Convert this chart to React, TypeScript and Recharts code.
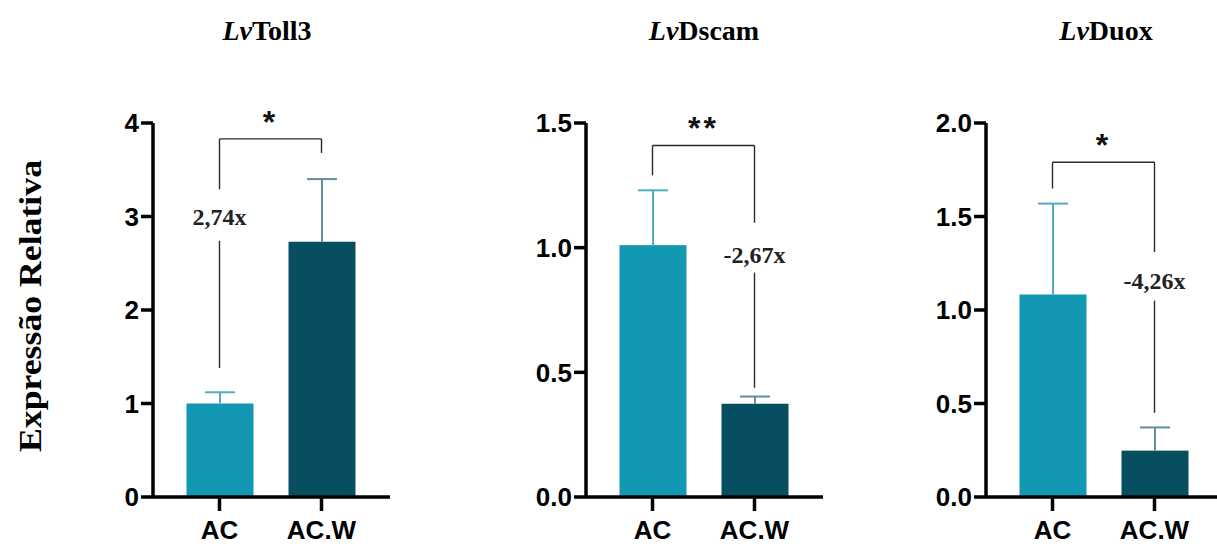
import React from 'react';
import { BarChart, Bar, XAxis, YAxis, ReferenceLine, ReferenceDot } from 'recharts';

const categories = ['AC', 'AC.W'];

const toll3Values = [1.0, 2.73];
const toll3Errors = [0.12, 0.67];
const toll3Ticks = [0, 1, 2, 3, 4];

const dscamValues = [1.01, 0.374];
const dscamErrors = [0.22, 0.029];
const dscamTicks = [0, 0.5, 1, 1.5];

const duoxValues = [1.083, 0.248];
const duoxErrors = [0.486, 0.124];
const duoxTicks = [0, 0.5, 1, 1.5, 2];

// annotation values (data units): bracket top, left leg bottom, right leg bottom,
// fold label y, fold line top, fold line bottom
const toll3Ann = { stars: '*', top: 3.83, leftLeg: 3.29, rightLeg: 3.68, foldText: '2,74x', foldCat: 'AC', foldY: 3.0, foldLineTop: 2.74, foldLineBottom: 1.38 };
const dscamAnn = { stars: '**', top: 1.41, leftLeg: 1.29, rightLeg: 1.1, foldText: '-2,67x', foldCat: 'AC.W', foldY: 0.973, foldLineTop: 0.9, foldLineBottom: 0.438 };
const duoxAnn = { stars: '*', top: 1.79, leftLeg: 1.65, rightLeg: 1.31, foldText: '-4,26x', foldCat: 'AC.W', foldY: 1.16, foldLineTop: 1.05, foldLineBottom: 0.45 };

const titles = [
  { gene: 'Toll3', x: 267 },
  { gene: 'Dscam', x: 704 },
  { gene: 'Duox', x: 1106 },
];

const barColors = ['#1398b3', '#074f60'];
const errorColors = ['#52abc0', '#5f8f9b'];

const SANS = '"Liberation Sans", Arial, sans-serif';
const SERIF = '"Liberation Serif", "Times New Roman", serif';

const BarWithError = (props: any) => {
  const { x, y, width, height, payload, index } = props;
  const k = payload.mean !== 0 ? height / payload.mean : 0;
  const top = y - payload.err * k;
  const cx = x + width / 2;
  return (
    <g>
      <rect x={x} y={y} width={width} height={height} fill={barColors[index]} />
      <line x1={cx} y1={y} x2={cx} y2={top} stroke={errorColors[index]} strokeWidth={2} />
      <line x1={cx - 15} y1={top} x2={cx + 15} y2={top} stroke={errorColors[index]} strokeWidth={2} />
    </g>
  );
};

function Panel({ left, values, errors, ticks, max, fmt, ann }: any) {
  const data = categories.map((c, i) => ({ name: c, mean: values[i], err: errors[i] }));
  const lineProps = { stroke: '#2a2a2a', strokeWidth: 1.4, ifOverflow: 'visible' as const };
  return (
    <div style={{ position: 'absolute', left, top: 0 }}>
      <BarChart width={322} height={547} data={data} margin={{ top: 123, right: 5, bottom: 4, left: 0 }} barSize={67}>
        <XAxis
          dataKey="name"
          interval={0}
          padding={{ left: 15.5, right: 17.5 }}
          height={46}
          tickSize={14}
          tickMargin={10}
          axisLine={{ stroke: '#000', strokeWidth: 3.5 }}
          tickLine={{ stroke: '#000', strokeWidth: 3.5 }}
          tick={{ fill: '#000', fontSize: 26, fontWeight: 700, fontFamily: SANS }}
        />
        <YAxis
          width={80}
          type="number"
          domain={[0, max]}
          ticks={ticks}
          interval={0}
          tickFormatter={fmt}
          tickSize={12}
          tickMargin={2}
          axisLine={{ stroke: '#000', strokeWidth: 3.5 }}
          tickLine={{ stroke: '#000', strokeWidth: 3.5 }}
          tick={{ fill: '#000', fontSize: 26, fontWeight: 700, fontFamily: SANS }}
        />
        <Bar dataKey="mean" shape={BarWithError} isAnimationActive={false} />
        <ReferenceLine
          segment={[{ x: 'AC', y: ann.top }, { x: 'AC.W', y: ann.top }]}
          {...lineProps}
          label={{ value: ann.stars, position: 'top', offset: 6, fontSize: 32, fontWeight: 700, fill: '#111', fontFamily: SANS, letterSpacing: 3 }}
        />
        <ReferenceLine segment={[{ x: 'AC', y: ann.top }, { x: 'AC', y: ann.leftLeg }]} {...lineProps} />
        <ReferenceLine segment={[{ x: 'AC.W', y: ann.top }, { x: 'AC.W', y: ann.rightLeg }]} {...lineProps} />
        <ReferenceLine segment={[{ x: ann.foldCat, y: ann.foldLineTop }, { x: ann.foldCat, y: ann.foldLineBottom }]} {...lineProps} />
        <ReferenceDot
          x={ann.foldCat}
          y={ann.foldY}
          r={0}
          fill="none"
          stroke="none"
          ifOverflow="visible"
          label={{ value: ann.foldText, position: 'center', fontSize: 24, fontWeight: 700, fill: '#222', fontFamily: SERIF }}
        />
      </BarChart>
    </div>
  );
}

export default function App() {
  return (
    <div style={{ position: 'absolute', left: 0, top: 0, width: 1217, height: 547, overflow: 'hidden', background: '#fff' }}>
      <Panel left={73} values={toll3Values} errors={toll3Errors} ticks={toll3Ticks} max={4} fmt={(v: number) => String(v)} ann={toll3Ann} />
      <Panel left={506} values={dscamValues} errors={dscamErrors} ticks={dscamTicks} max={1.5} fmt={(v: number) => v.toFixed(1)} ann={dscamAnn} />
      <Panel left={906} values={duoxValues} errors={duoxErrors} ticks={duoxTicks} max={2} fmt={(v: number) => v.toFixed(1)} ann={duoxAnn} />
      <svg width={1217} height={547} style={{ position: 'absolute', left: 0, top: 0, pointerEvents: 'none' }}>
        {titles.map((t) => (
          <text key={t.gene} x={t.x} y={40} textAnchor="middle" fontFamily={SERIF} fontWeight={700} fontSize={28} fill="#000">
            <tspan fontStyle="italic">Lv</tspan>
            <tspan>{t.gene}</tspan>
          </text>
        ))}
        <text
          x={0}
          y={0}
          transform="translate(41 306) rotate(-90)"
          textAnchor="middle"
          fontFamily={SERIF}
          fontWeight={700}
          fontSize={32}
          textLength={292}
          lengthAdjust="spacingAndGlyphs"
          fill="#000"
        >
          Expressão Relativa
        </text>
      </svg>
    </div>
  );
}
